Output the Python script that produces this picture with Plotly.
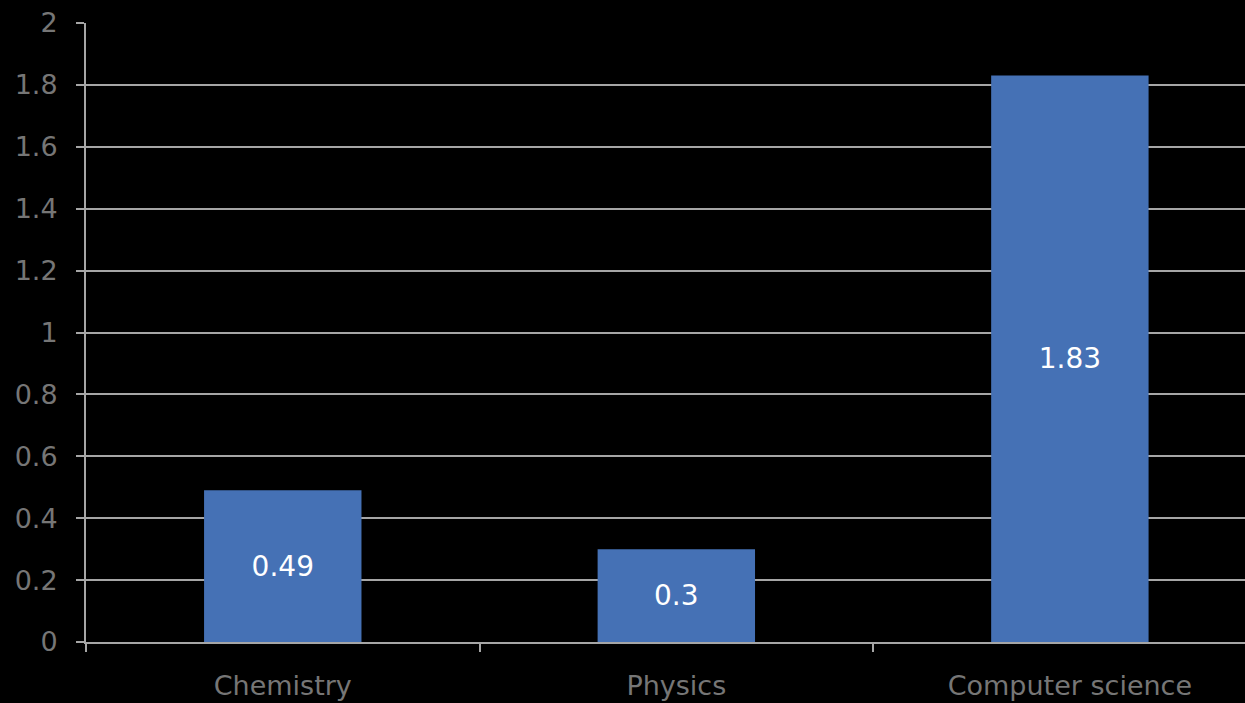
import plotly.graph_objects as go

categories = ["Chemistry", "Physics", "Computer science"]
values = [0.49, 0.3, 1.83]
y_ticks = [0, 0.2, 0.4, 0.6, 0.8, 1, 1.2, 1.4, 1.6, 1.8, 2]
y_tick_labels = ["0", "0.2", "0.4", "0.6", "0.8", "1", "1.2", "1.4", "1.6", "1.8", "2"]

fig = go.Figure(go.Bar(
    x=categories, y=values,
    marker=dict(color="#4571B5", line=dict(width=0)),
    text=[str(v) for v in values],
    textposition="inside", insidetextanchor="middle",
    textfont=dict(color="white", size=28, family="DejaVu Sans"),
    cliponaxis=False,
))

fig.update_layout(
    width=1245, height=703,
    margin=dict(l=86, r=0, t=23, b=61),
    paper_bgcolor="black", plot_bgcolor="black",
    bargap=0.6, showlegend=False,
    font=dict(family="DejaVu Sans", size=27, color="#767676"),
    uniformtext=dict(mode=False),
)
fig.update_xaxes(
    range=[-0.5, 2.445], tickson="boundaries",
    ticks="outside", ticklen=8, tickwidth=2, tickcolor="#A6A6A6",
    showline=True, linecolor="#A6A6A6", linewidth=2,
    showgrid=False, ticklabelstandoff=19,
    tickfont=dict(size=27, color="#767676"),
)
fig.update_yaxes(
    range=[0, 2], tickvals=y_ticks, ticktext=y_tick_labels,
    ticks="outside", ticklen=8, tickwidth=2, tickcolor="#A6A6A6",
    showline=True, linecolor="#A6A6A6", linewidth=2,
    showgrid=True, gridcolor="#A6A6A6", gridwidth=2,
    zeroline=False, ticklabelstandoff=13,
    tickfont=dict(size=27, color="#767676"),
)

fig.write_html("out.html")
